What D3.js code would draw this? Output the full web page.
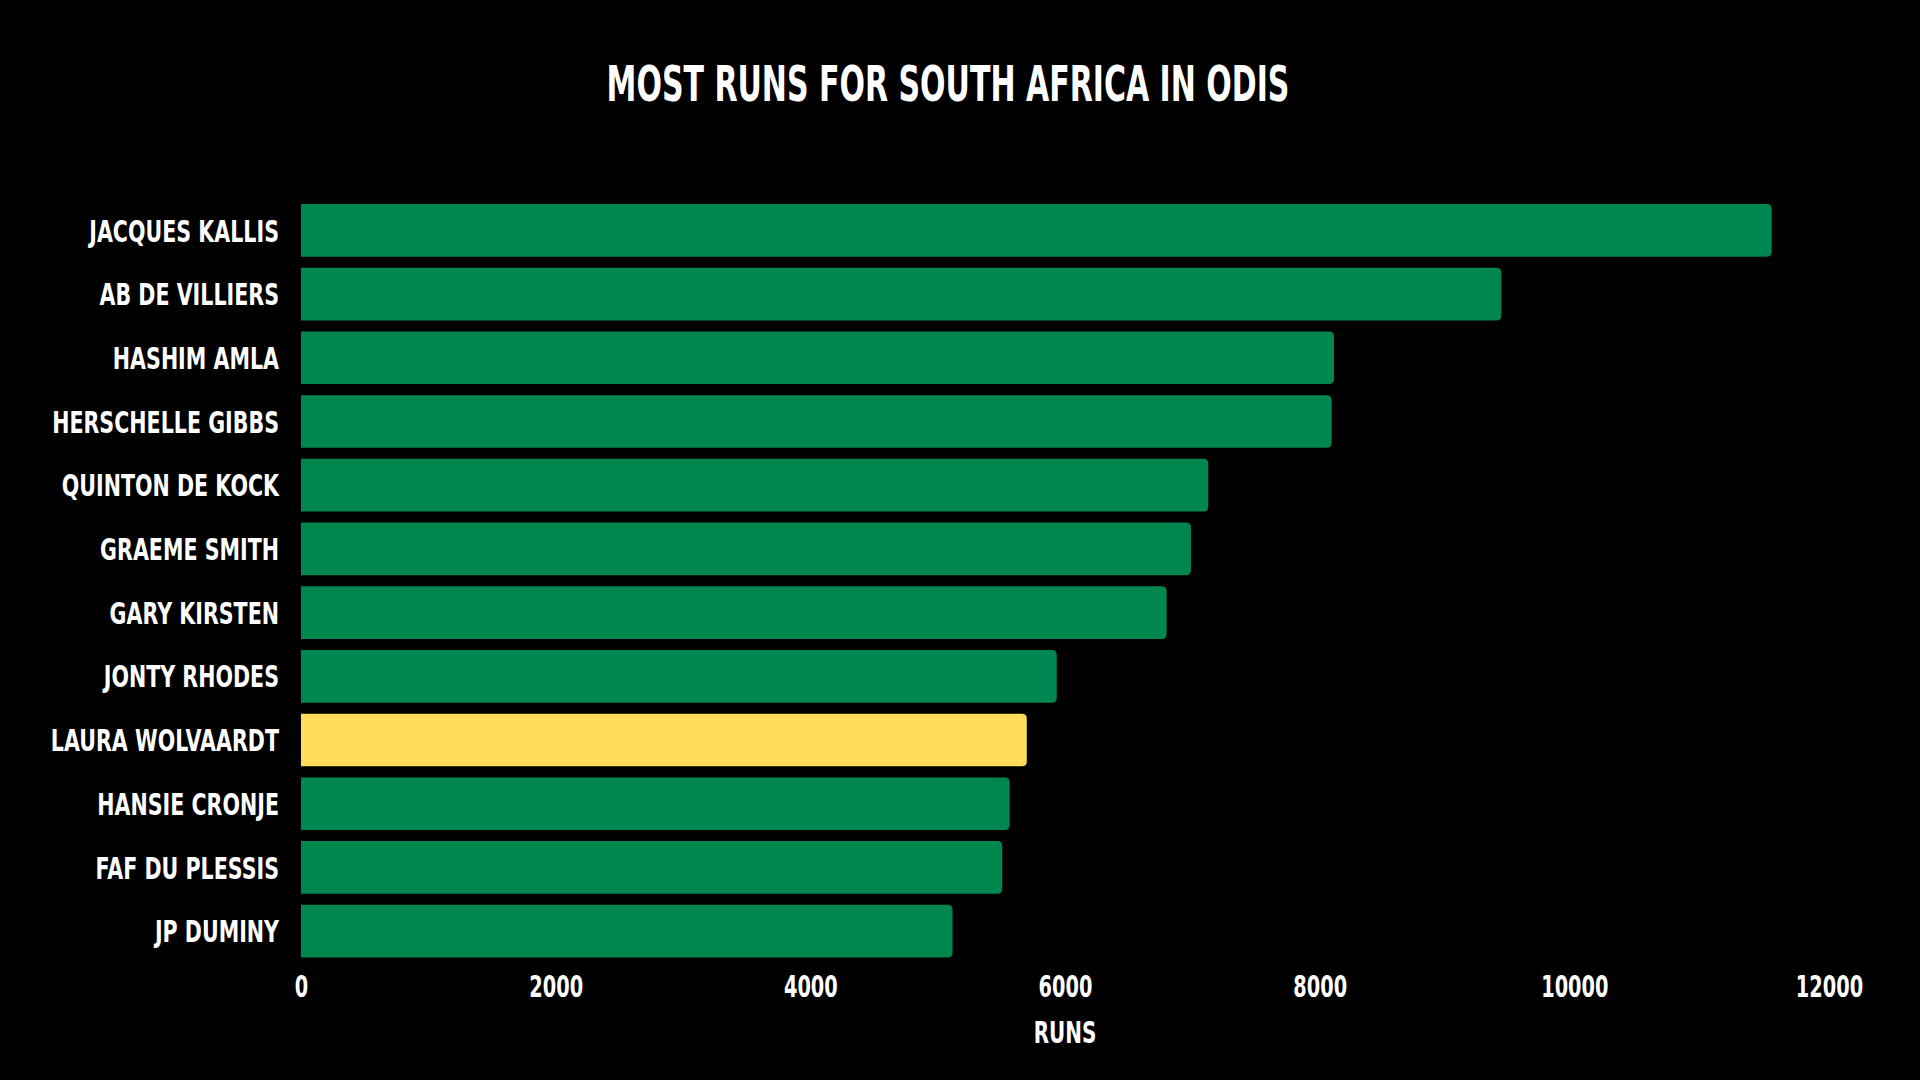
<!DOCTYPE html>
<html>
<head>
<meta charset="utf-8">
<script src="https://cdn.jsdelivr.net/npm/d3@7"></script>
<style>
  html, body { margin: 0; padding: 0; background: #000; }
  svg { display: block; }
  .lbl { font-family: "DejaVu Sans", sans-serif; font-weight: bold; fill: #fff; }
</style>
</head>
<body>
<svg id="chart"></svg>
<script>
(function() {

const players = ["Jacques Kallis", "AB de Villiers", "Hashim Amla", "Herschelle Gibbs", "Quinton de Kock",
  "Graeme Smith", "Gary Kirsten", "Jonty Rhodes", "Laura Wolvaardt", "Hansie Cronje", "Faf du Plessis", "JP Duminy"];
const runs = [11550, 9427, 8113, 8094, 7125, 6989, 6798, 5935, 5700, 5565, 5507, 5117];
const highlighted = ["Laura Wolvaardt"];
const xTicks = [0, 2000, 4000, 6000, 8000, 10000, 12000];

const green = "#00874f";
const yellow = "#ffdc5a";
// the original font is a narrow display face, so squeeze the text sideways
const squeeze = 0.665;

const width = 1920, height = 1080;
const svg = d3.select("#chart").attr("width", width).attr("height", height);

const x = d3.scaleLinear().domain([0, 12000]).range([301, 1829]);
const y = d3.scaleBand().domain(players).range([198.5, 963]).paddingInner(0.173).paddingOuter(0.0865);

const data = players.map((p, i) => ({ name: p, value: runs[i] }));

// bars: square on the left, rounded on the right
const r = 5;
function barPath(d) {
  const x0 = x(0), x1 = x(d.value), y0 = y(d.name), y1 = y0 + y.bandwidth();
  return `M${x0},${y0}H${x1 - r}Q${x1},${y0} ${x1},${y0 + r}V${y1 - r}Q${x1},${y1} ${x1 - r},${y1}H${x0}Z`;
}

svg.append("g").selectAll("path")
  .data(data)
  .join("path")
  .attr("d", barPath)
  .attr("fill", d => highlighted.includes(d.name) ? yellow : green);

// category labels
svg.append("g").selectAll("g")
  .data(data)
  .join("g")
  .attr("transform", d => `translate(279,${y(d.name) + y.bandwidth() / 2}) scale(${squeeze},1)`)
  .append("text")
  .attr("class", "lbl")
  .attr("dy", "0.36em")
  .attr("text-anchor", "end")
  .attr("font-size", 31)
  .text(d => d.name.toUpperCase());

// x axis
const xAxis = svg.append("g")
  .attr("transform", `translate(0,${y.range()[1]})`)
  .call(d3.axisBottom(x).tickValues(xTicks).tickSize(0).tickPadding(13).tickFormat(d3.format("d")));
xAxis.select(".domain").remove();
xAxis.selectAll("text")
  .attr("class", "lbl")
  .attr("font-size", 30)
  .attr("transform", `scale(${squeeze - 0.02},1)`);

svg.append("g")
  .attr("transform", `translate(${(x.range()[0] + x.range()[1]) / 2},1043) scale(${squeeze},1)`)
  .append("text")
  .attr("class", "lbl")
  .attr("text-anchor", "middle")
  .attr("font-size", 30)
  .text("RUNS");

svg.append("g")
  .attr("transform", "translate(948,101) scale(0.6,1)")
  .append("text")
  .attr("class", "lbl")
  .attr("text-anchor", "middle")
  .attr("font-size", 50)
  .text("MOST RUNS FOR SOUTH AFRICA IN ODIS");

})();
</script>
</body>
</html>
